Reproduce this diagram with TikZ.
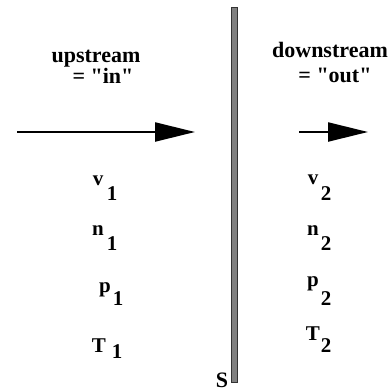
\documentclass[tikz,border=0pt]{standalone}
\usepackage{fontspec}
\setmainfont{Liberation Serif}[Ligatures=TeXOff]
\usetikzlibrary{arrows.meta}
\tikzset{
  lbl/.style={font=\fontsize{22}{24}\selectfont\bfseries, inner sep=0pt, anchor=base},
  var/.style={font=\fontsize{21}{23}\selectfont\bfseries, inner sep=0pt, anchor=base},
  flow/.style={line width=2.2pt, -{Triangle[length=40pt,width=19pt]}},
  wall/.style={draw=black!80, line width=0.8pt, fill=black!50}
}
\begin{document}
\begin{tikzpicture}[x=1pt,y=-1pt]
\useasboundingbox (0,0) rectangle (391,391);
% wall
\node[wall, minimum width=6pt, minimum height=375pt, inner sep=0pt, anchor=north] (wall) at (234,7) {};
\node[var, font=\fontsize{22}{24}\selectfont\bfseries] (S) at (222,387) {S};
% headings
\node[lbl] (up) at (96,62) {upstream};
\node[lbl] (upin) at (103,83) {= "in"};
\node[lbl] (down) at (330,57) {downstream};
\node[lbl] (downout) at (335,82) {= "out"};
% arrows
\coordinate (a1s) at (17,132);
\coordinate (a1e) at (195,132);
\coordinate (a2s) at (299,132);
\coordinate (a2e) at (368,132);
\draw[flow] (a1s) -- (a1e);
\draw[flow] (a2s) -- (a2e);
% upstream variables
\node[var] (v1) at (98,185) {v};
\node[var] (v1s) at (112,200) {1};
\node[var] (n1) at (98,235) {n};
\node[var] (n1s) at (112,250) {1};
\node[var] (p1) at (105,292) {p};
\node[var] (p1s) at (118,305) {1};
\node[var] (T1) at (99,352) {T};
\node[var] (T1s) at (117,358) {1};
% downstream variables
\node[var] (v2) at (313,184) {v};
\node[var] (v2s) at (326,200) {2};
\node[var] (n2) at (313,235) {n};
\node[var] (n2s) at (326,250) {2};
\node[var] (p2) at (313,286) {p};
\node[var] (p2s) at (326,305) {2};
\node[var] (T2) at (313,340) {T};
\node[var] (T2s) at (326,352) {2};
\end{tikzpicture}
\end{document}
